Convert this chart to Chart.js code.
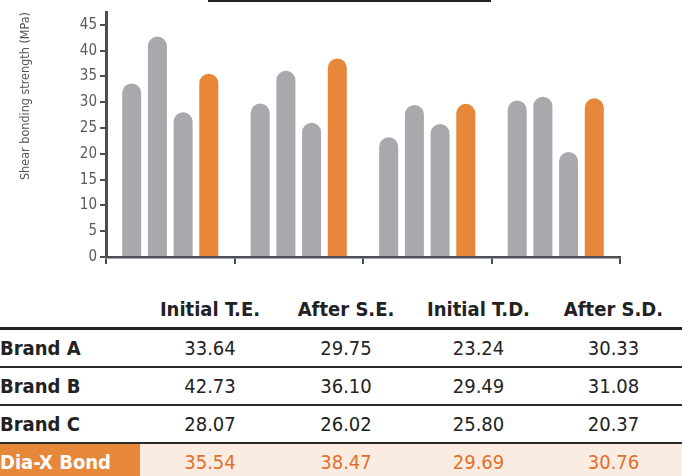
<!DOCTYPE html>
<html>
<head>
<meta charset="utf-8">
<script src="https://cdn.jsdelivr.net/npm/chart.js@4"></script>
<style>
  body { margin: 0; width: 682px; height: 476px; overflow: hidden; background: #fff; position: relative; }
  #wrap { position: absolute; left: 0; top: 0; width: 682px; height: 280px; }
  #topline { position: absolute; left: 208px; top: 0; width: 283px; height: 2px; background: #222; }
  #tbl { position: absolute; left: 0; top: 290px; border-collapse: collapse; font-family: 'DejaVu Sans Condensed', sans-serif; }
  #tbl th, #tbl td { padding: 0; text-align: center; }
  #tbl th { height: 37px; font-size: 20px; font-weight: bold; color: #222; vertical-align: middle; border-bottom: 3px solid #222; }
  #tbl td { height: 36px; font-size: 20px; color: #222; border-bottom: 2.5px solid #2a2a2a; }
  #tbl td.lbl { text-align: left; font-weight: bold; }
  #tbl tr.hl td { background: #fbece1; color: #e1702c; border-bottom: none; }
  #tbl tr.hl td.lbl { background: #e6873a; color: #fff; }
</style>
</head>
<body>
<div id="wrap"><canvas id="chart" width="682" height="280"></canvas></div>
<div id="topline"></div>
<table id="tbl"></table>
<script>
const categories = ['Initial T.E.', 'After S.E.', 'Initial T.D.', 'After S.D.'];
const brandA = [33.64, 29.75, 23.24, 30.33];
const brandB = [42.73, 36.10, 29.49, 31.08];
const brandC = [28.07, 26.02, 25.80, 20.37];
const diaX = [35.54, 38.47, 29.69, 30.76];
const seriesNames = ['Brand A', 'Brand B', 'Brand C', 'Dia-X Bond'];
const yTicks = [0, 5, 10, 15, 20, 25, 30, 35, 40, 45];

const GRAY = '#a8a9ac';
const ORANGE = '#e6873a';
const AXIS = '#4a4f55';
const FONT = "'DejaVu Sans Condensed', sans-serif";

const allSeries = [brandA, brandB, brandC, diaX];

const makeDataset = (name, values, color) => ({
    label: name,
    data: values,
    backgroundColor: color,
    borderWidth: 0,
    borderRadius: { topLeft: 12, topRight: 12, bottomLeft: 0, bottomRight: 0 },
    borderSkipped: 'start',
    categoryPercentage: 0.8,
    barPercentage: 0.74
});

new Chart(document.getElementById('chart'), {
    type: 'bar',
    data: {
        labels: categories,
        datasets: allSeries.map((vals, i) => makeDataset(seriesNames[i], vals, i === 3 ? ORANGE : GRAY))
    },
    options: {
        responsive: false,
        animation: false,
        layout: { padding: { top: 9, bottom: 16, left: 0, right: 62 } },
        plugins: { legend: { display: false }, tooltip: { enabled: false } },
        scales: {
            x: {
                ticks: { display: false },
                grid: {
                    offset: true,
                    drawOnChartArea: false,
                    drawTicks: true,
                    tickLength: 7,
                    lineWidth: 2,
                    color: ctx => ctx.index >= categories.length ? 'rgba(0,0,0,0)' : AXIS
                },
                border: { display: true, color: AXIS, width: 2.5 }
            },
            y: {
                min: 0,
                max: 47.5,
                afterFit: scale => { scale.width = 106; },
                afterBuildTicks: scale => { scale.ticks = yTicks.map(v => ({ value: v })); },
                ticks: {
                    padding: 3,
                    color: '#5a5a5a',
                    font: { family: FONT, size: 15 }
                },
                grid: {
                    drawOnChartArea: false,
                    drawTicks: true,
                    tickLength: 6,
                    lineWidth: 2,
                    color: AXIS
                },
                border: { display: true, color: AXIS, width: 3 },
                title: {
                    display: true,
                    text: 'Shear bonding strength (MPa)',
                    align: 'end',
                    color: '#555',
                    padding: { top: 18, bottom: 0 },
                    font: { family: FONT, size: 12.5 }
                }
            }
        }
    }
});

// data table under the chart
const colWidths = [140, 140, 132, 133, 137];
const tbl = document.getElementById('tbl');
const head = document.createElement('tr');
['', ...categories].forEach((txt, i) => {
    const th = document.createElement('th');
    th.textContent = txt;
    th.style.width = colWidths[i] + 'px';
    head.appendChild(th);
});
tbl.appendChild(head);

allSeries.forEach((vals, r) => {
    const row = document.createElement('tr');
    if (r === 3) row.className = 'hl';
    const lbl = document.createElement('td');
    lbl.className = 'lbl';
    lbl.textContent = seriesNames[r];
    row.appendChild(lbl);
    vals.forEach(v => {
        const td = document.createElement('td');
        td.textContent = v.toFixed(2);
        row.appendChild(td);
    });
    tbl.appendChild(row);
});
</script>
</body>
</html>
